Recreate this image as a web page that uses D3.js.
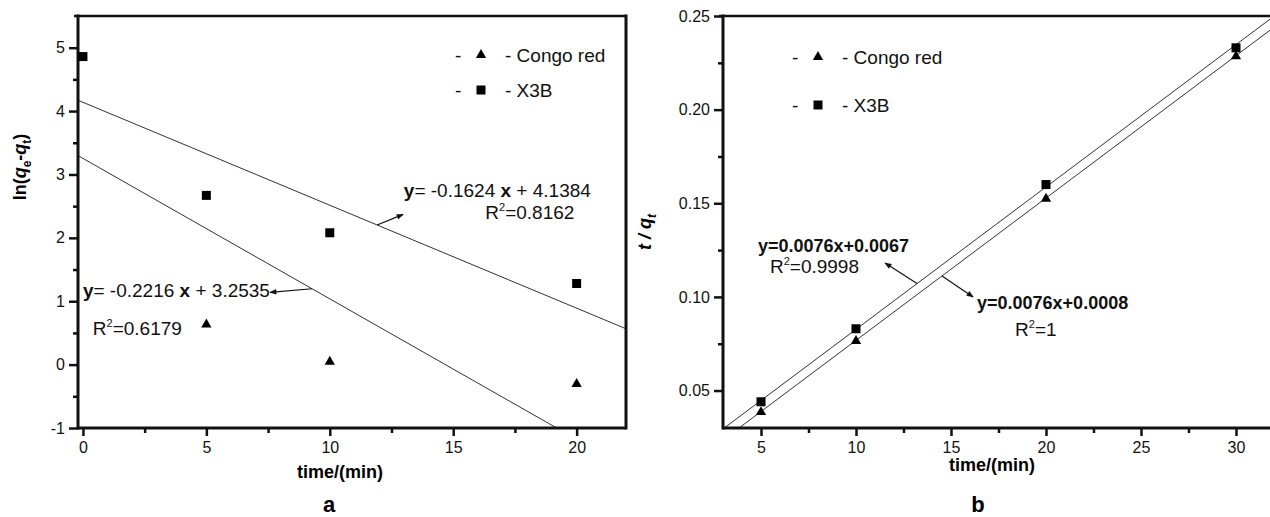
<!DOCTYPE html>
<html>
<head>
<meta charset="utf-8">
<script src="https://cdn.jsdelivr.net/npm/d3@7"></script>
<style>
  body { margin: 0; background: #fff; }
  svg { display: block; font-family: "Liberation Sans", Arial, sans-serif; }
  .tick text { font-size: 16px; fill: #111; }
  .fit { fill: none; stroke: #333; stroke-width: 1; }
</style>
</head>
<body>
<div id="chart"></div>
<script>
// panel a: pseudo-first-order
const timeA_x3b = [0, 5, 10, 20];
const lnA_x3b = [4.86, 2.67, 2.08, 1.28];
const timeA_congo = [5, 10, 20];
const lnA_congo = [0.65, 0.06, -0.29];
const fitA = [
  { slope: -0.1624, icpt: 4.1384 },   // X3B
  { slope: -0.2216, icpt: 3.2535 },   // Congo red
];
const xTicksA = [0, 5, 10, 15, 20];
const xMinorA = [2.5, 7.5, 12.5, 17.5];
const yTicksA = [-1, 0, 1, 2, 3, 4, 5];
const yMinorA = [-0.5, 0.5, 1.5, 2.5, 3.5, 4.5];

// panel b: pseudo-second-order
const timeB = [5, 10, 20, 30];
const tqB_x3b = [0.044, 0.083, 0.160, 0.233];
const tqB_congo = [0.039, 0.077, 0.153, 0.229];
const fitB = [
  { slope: 0.0076, icpt: 0.0067 },    // X3B
  { slope: 0.0076, icpt: 0.0008 },    // Congo red
];
const xTicksB = [5, 10, 15, 20, 25, 30];
const xMinorB = [7.5, 12.5, 17.5, 22.5, 27.5];
const yTicksB = [0.05, 0.10, 0.15, 0.20, 0.25];
const yMinorB = [0.075, 0.125, 0.175, 0.225];

const W = 1270, H = 517;

const svg = d3.select('#chart').append('svg')
  .attr('width', W).attr('height', H);

const defs = svg.append('defs');
defs.append('marker')
  .attr('id', 'arrow')
  .attr('viewBox', '0 0 10 10')
  .attr('refX', 9).attr('refY', 5)
  .attr('markerWidth', 9).attr('markerHeight', 7)
  .attr('markerUnits', 'userSpaceOnUse')
  .attr('orient', 'auto')
  .append('path').attr('d', 'M0,1 L10,5 L0,9 Z').attr('fill', '#111');

const squareSym = d3.symbol().type(d3.symbolSquare).size(81);
const triSym = d3.symbol().type(d3.symbolTriangle).size(46);

// origin style uses a plain hyphen for negatives
const hyphen = (fmt) => (v) => fmt(v).replace('\u2212', '-');

function drawPanel(p) {
  const x = d3.scaleLinear().domain(p.xDomain).range(p.xRange);
  const y = d3.scaleLinear().domain(p.yDomain).range([428, 16]);
  const g = svg.append('g');

  const clipId = 'clip-' + p.id;
  defs.append('clipPath').attr('id', clipId)
    .append('rect')
    .attr('x', p.xRange[0]).attr('y', 16)
    .attr('width', p.xRange[1] - p.xRange[0]).attr('height', 412);

  // fit lines
  const line = d3.line().x((d) => x(d[0])).y((d) => y(d[1]));
  g.append('g').attr('clip-path', `url(#${clipId})`)
    .selectAll('path.fit')
    .data(p.fits)
    .enter()
    .append('path')
    .attr('class', 'fit')
    .attr('d', (f) => line(p.xDomain.map((t) => [t, f.slope * t + f.icpt])));

  // axes (major + minor ticks)
  const xAxis = g.append('g').attr('transform', 'translate(0,428)')
    .call(d3.axisBottom(x).tickValues(p.xTicks).tickSize(8).tickPadding(6).tickSizeOuter(0));
  const xMinor = g.append('g').attr('transform', 'translate(0,428)')
    .call(d3.axisBottom(x).tickValues(p.xMinor).tickSize(5).tickFormat('').tickSizeOuter(0));
  const yAxis = g.append('g').attr('transform', `translate(${p.xRange[0]},0)`)
    .call(d3.axisLeft(y).tickValues(p.yTicks).tickSize(9).tickPadding(4)
      .tickFormat(hyphen(p.yFormat)).tickSizeOuter(0));
  const yMinor = g.append('g').attr('transform', `translate(${p.xRange[0]},0)`)
    .call(d3.axisLeft(y).tickValues(p.yMinor).tickSize(5).tickFormat('').tickSizeOuter(0));

  [xAxis, xMinor, yAxis, yMinor].forEach((a) => {
    a.select('.domain').remove();
    a.selectAll('line').attr('stroke', '#111').attr('stroke-width', 2.5);
    a.selectAll('text').attr('font-family', null).attr('font-size', null);
  });

  // frame
  const fr = g.append('g').attr('stroke', '#111').attr('fill', 'none');
  fr.append('line').attr('x1', p.xRange[0]).attr('x2', p.xRange[1])
    .attr('y1', 428).attr('y2', 428).attr('stroke-width', 3);
  fr.append('line').attr('x1', p.xRange[0]).attr('x2', p.xRange[0])
    .attr('y1', 14.5).attr('y2', 429.5).attr('stroke-width', 3);
  fr.append('line').attr('x1', p.xRange[0] - 4).attr('x2', p.xRange[1])
    .attr('y1', 16).attr('y2', 16).attr('stroke-width', 2.5);
  if (p.rightBorder) {
    fr.append('line').attr('x1', p.xRange[1]).attr('x2', p.xRange[1])
      .attr('y1', 14.5).attr('y2', 429.5).attr('stroke-width', 3);
  }

  // points
  g.selectAll('path.sq')
    .data(p.x3b)
    .enter()
    .append('path')
    .attr('class', 'sq')
    .attr('d', squareSym)
    .attr('transform', (d) => `translate(${x(d[0])},${y(d[1])})`)
    .attr('fill', '#000');

  g.selectAll('path.tri')
    .data(p.congo)
    .enter()
    .append('path')
    .attr('class', 'tri')
    .attr('d', triSym)
    .attr('transform', (d) => `translate(${x(d[0])},${y(d[1]) + 1})`)
    .attr('fill', '#000');

  // legend
  const lg = g.append('g').attr('font-size', 19).attr('fill', '#111');
  p.legend.forEach((row) => {
    lg.append('text').attr('x', row.x).attr('y', row.y + 7).text('-');
    lg.append('path')
      .attr('d', row.sym === 'tri' ? triSym : squareSym)
      .attr('transform', `translate(${row.x + 26},${row.y})`)
      .attr('fill', '#000');
    lg.append('text').attr('x', row.x + 50).attr('y', row.y + 7).text('- ' + row.label);
  });

  // equation annotations
  p.notes.forEach((n) => {
    const t = g.append('text')
      .attr('x', x(n.tx)).attr('y', y(n.ty))
      .attr('font-size', n.size).attr('fill', '#111');
    n.parts.forEach((pt) => {
      t.append('tspan').attr('font-weight', pt.b ? 'bold' : null).text(pt.s);
    });
    const r = g.append('text')
      .attr('x', x(n.rx)).attr('y', y(n.ry))
      .attr('font-size', 19).attr('fill', '#111');
    r.append('tspan').text('R');
    r.append('tspan').attr('font-size', 11).attr('dy', -8).text('2');
    r.append('tspan').attr('dy', 8).text('=' + n.r2);

    const f = p.fits[n.fit];
    g.append('line')
      .attr('x1', x(n.ax)).attr('y1', y(f.slope * n.ax + f.icpt))
      .attr('x2', x(n.hx)).attr('y2', y(n.hy))
      .attr('stroke', '#111').attr('stroke-width', 1.2)
      .attr('marker-end', 'url(#arrow)');
  });

  // axis titles
  g.append('text')
    .attr('x', p.xTitleX).attr('y', p.xTitleY)
    .attr('text-anchor', 'middle')
    .attr('font-size', 18).attr('font-weight', 'bold')
    .text('time/(min)');

  g.append('text')
    .attr('x', p.tagX).attr('y', 512)
    .attr('text-anchor', 'middle')
    .attr('font-size', 22).attr('font-weight', 'bold')
    .text(p.tag);

  const yl = g.append('text')
    .attr('transform', `translate(${p.yTitleX},${p.yTitleY}) rotate(-90)`)
    .attr('text-anchor', 'middle')
    .attr('font-size', 18).attr('font-weight', 'bold');
  p.yTitle(yl);
}

drawPanel({
  id: 'a',
  xDomain: [-0.2, 22],
  xRange: [78, 626],
  yDomain: [-1, 5.5],
  xTicks: xTicksA, xMinor: xMinorA,
  yTicks: yTicksA, yMinor: yMinorA,
  yFormat: d3.format('d'),
  rightBorder: true,
  fits: fitA,
  x3b: d3.zip(timeA_x3b, lnA_x3b),
  congo: d3.zip(timeA_congo, lnA_congo),
  legend: [
    { x: 455, y: 55, sym: 'tri', label: 'Congo red' },
    { x: 455, y: 90, sym: 'sq', label: 'X3B' },
  ],
  notes: [
    {
      fit: 0, size: 19, tx: 13.0, ty: 2.65,
      parts: [{ s: 'y', b: true }, { s: '= -0.1624 ' }, { s: 'x', b: true }, { s: ' + 4.1384' }],
      rx: 16.3, ry: 2.29, r2: '0.8162',
      ax: 11.92, hx: 12.97, hy: 2.37,
    },
    {
      fit: 1, size: 19, tx: 0.0, ty: 1.06,
      parts: [{ s: 'y', b: true }, { s: '= -0.2216 ' }, { s: 'x', b: true }, { s: ' + 3.2535' }],
      rx: 0.4, ry: 0.47, r2: '0.6179',
      ax: 9.28, hx: 7.58, hy: 1.14,
    },
  ],
  xTitleX: 340, xTitleY: 478,
  tag: 'a', tagX: 329,
  yTitleX: 26, yTitleY: 167,
  yTitle: (t) => {
    t.append('tspan').text('ln(');
    t.append('tspan').attr('font-style', 'italic').text('q');
    t.append('tspan').attr('font-size', 12).attr('dy', 5).text('e');
    t.append('tspan').attr('dy', -5).text('-');
    t.append('tspan').attr('font-style', 'italic').text('q');
    t.append('tspan').attr('font-size', 12).attr('dy', 5).text('t');
    t.append('tspan').attr('dy', -5).text(')');
  },
});

drawPanel({
  id: 'b',
  xDomain: [3, 32],
  xRange: [723, 1274],
  yDomain: [0.03, 0.25],
  xTicks: xTicksB, xMinor: xMinorB,
  yTicks: yTicksB, yMinor: yMinorB,
  yFormat: d3.format('.2f'),
  rightBorder: false,
  fits: fitB,
  x3b: d3.zip(timeB, tqB_x3b),
  congo: d3.zip(timeB, tqB_congo),
  legend: [
    { x: 792, y: 57, sym: 'tri', label: 'Congo red' },
    { x: 792, y: 105, sym: 'sq', label: 'X3B' },
  ],
  notes: [
    {
      fit: 0, size: 18, tx: 4.84, ty: 0.1240,
      parts: [{ s: 'y=0.0076x+0.0067', b: true }],
      rx: 5.47, ry: 0.1128, r2: '0.9998',
      ax: 13.21, hx: 11.53, hy: 0.1181,
    },
    {
      fit: 1, size: 18, tx: 16.37, ty: 0.0935,
      parts: [{ s: 'y=0.0076x+0.0008', b: true }],
      rx: 18.37, ry: 0.0791, r2: '1',
      ax: 14.53, hx: 16.16, hy: 0.1,
    },
  ],
  xTitleX: 992, xTitleY: 471,
  tag: 'b', tagX: 978,
  yTitleX: 651, yTitleY: 232,
  yTitle: (t) => {
    t.attr('font-style', 'italic');
    t.append('tspan').text('t / q');
    t.append('tspan').attr('font-size', 12).attr('dy', 5).text('t');
  },
});
</script>
</body>
</html>
